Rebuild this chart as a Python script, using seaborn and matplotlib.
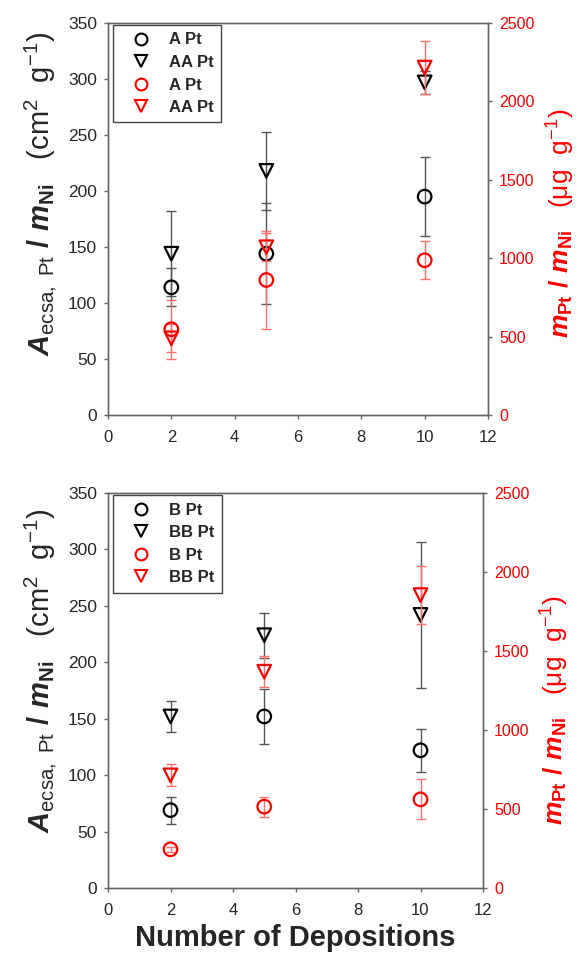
import matplotlib
matplotlib.use("Agg")
import matplotlib.pyplot as plt
import seaborn as sns
import pandas as pd
import numpy as np

# ---------------- data ----------------
depositions = [2, 5, 10]

# top panel
top_circle_area = [114, 144, 195]
top_circle_area_err = [17, 45, 35]
top_tri_area = [144, 218, 297]
top_tri_area_err = [38, 35, 10]
top_circle_mass = [547, 861, 987]
top_circle_mass_err = [187, 311, 122]
top_tri_mass = [489, 1070, 2216]
top_tri_mass_err = [90, 90, 168]
top_labels = ["A Pt", "AA Pt"]

# bottom panel
bot_circle_area = [69, 152, 122]
bot_circle_area_err = [12, 24, 19]
bot_tri_area = [152, 224, 242]
bot_tri_area_err = [14, 20, 65]
bot_circle_mass = [245, 515, 561]
bot_circle_mass_err = [15, 63, 127]
bot_tri_mass = [713, 1369, 1854]
bot_tri_mass_err = [70, 100, 183]
bot_labels = ["B Pt", "BB Pt"]

x_ticks = [0, 2, 4, 6, 8, 10, 12]
left_ticks = [0, 50, 100, 150, 200, 250, 300, 350]
right_ticks = [0, 500, 1000, 1500, 2000, 2500]

# ---------------- style ----------------
sns.set_theme(style="white")
plt.rcParams["font.family"] = ["Liberation Sans", "DejaVu Sans"]
plt.rcParams["mathtext.fontset"] = "custom"
plt.rcParams["mathtext.rm"] = "Liberation Sans"
plt.rcParams["mathtext.it"] = "Liberation Sans:italic:bold"
plt.rcParams["mathtext.bf"] = "Liberation Sans:bold"

W, H = 583, 955
fig = plt.figure(figsize=(W / 100, H / 100), dpi=100)

RED = "#ff0000"
ERR_BLACK = "#555555"
ERR_RED = "#ff7070"
SPINE = "#666666"


def draw_panel(rect, ca, cae, ta, tae, cm, cme, tm, tme, labels,
               ly, ry, xlabel=False):
    ax = fig.add_axes(rect)
    ax2 = ax.twinx()
    df_a = pd.DataFrame({"x": depositions * 2,
                         "y": ca + ta,
                         "err": cae + tae,
                         "s": [labels[0]] * 3 + [labels[1]] * 3})
    df_m = pd.DataFrame({"x": depositions * 2,
                         "y": cm + tm,
                         "err": cme + tme,
                         "s": [labels[0]] * 3 + [labels[1]] * 3})
    handles = []
    for a, df, col, ecol in [(ax, df_a, "black", ERR_BLACK), (ax2, df_m, RED, ERR_RED)]:
        for lab, mk in zip(labels, ["o", "v"]):
            sub = df[df["s"] == lab]
            a.errorbar(sub["x"], sub["y"], yerr=sub["err"], fmt="none",
                       ecolor=ecol, elinewidth=1.0, capsize=3.6, capthick=1.0, zorder=2)
            sns.scatterplot(data=sub, x="x", y="y", ax=a, marker=mk, s=95,
                            facecolor="none", edgecolor=col, linewidth=1.6,
                            legend=False, zorder=3)
            handles.append(plt.Line2D([], [], ls="none", marker=mk, markersize=8.5,
                                      markerfacecolor="none", markeredgecolor=col,
                                      markeredgewidth=1.5, label=lab))
    ax.set_xlim(0, 12)
    ax.set_ylim(0, 350)
    ax2.set_ylim(0, 2500)
    ax.set_xticks(x_ticks)
    ax.set_yticks(left_ticks)
    ax2.set_yticks(right_ticks)
    ax.tick_params(axis="x", direction="out", length=3, width=1, color=SPINE,
                   labelsize=12, pad=8, bottom=True)
    ax.tick_params(axis="y", direction="out", length=3, width=1, color=SPINE,
                   labelsize=12.5, pad=5, left=True)
    ax2.tick_params(axis="y", direction="out", length=3, width=1, color=SPINE,
                    labelsize=11.5, labelcolor=RED, pad=5, right=True)
    for a in (ax, ax2):
        for sp in a.spines.values():
            sp.set_color(SPINE)
            sp.set_linewidth(1.0)
    if xlabel:
        ax.set_xlabel("Number of Depositions", fontsize=21, fontweight="bold", labelpad=4)
    else:
        ax.set_xlabel("")
    ax.set_ylabel(r"$\mathit{A}_{\mathrm{ecsa,\ Pt}}\ \mathbf{/}\ \mathit{m}_{\mathbf{Ni}}$   (cm$^{2}$  g$^{-1}$)",
                  fontsize=21)
    ax.yaxis.set_label_coords(-0.13, ly)
    ax2.set_ylabel(r"$\mathit{m}_{\mathbf{Pt}}\ \mathbf{/}\ \mathit{m}_{\mathbf{Ni}}$   ($\mathrm{\mu}$g  g$^{-1}$)",
                   fontsize=19, color=RED, rotation=90)
    ax2.yaxis.set_label_coords(1.15, ry)
    leg = ax2.legend(handles=handles, loc="upper left",
                     bbox_to_anchor=(5 / rect[2] / W, 1 - 2 / (rect[3] * H)),
                     frameon=True, fancybox=False,
                     edgecolor="#444444", framealpha=1, borderaxespad=0.0,
                     handlelength=2.5, handletextpad=0.4, labelspacing=0.45,
                     borderpad=0.45, prop={"weight": "bold", "size": 12})
    leg.get_frame().set_linewidth(1.0)
    leg.set_zorder(10)
    return ax, ax2


draw_panel([108 / W, 1 - 415 / H, 380 / W, 392 / H],
           top_circle_area, top_circle_area_err, top_tri_area, top_tri_area_err,
           top_circle_mass, top_circle_mass_err, top_tri_mass, top_tri_mass_err,
           top_labels, ly=0.565, ry=0.49)
draw_panel([108 / W, 1 - 888 / H, 375 / W, 395 / H],
           bot_circle_area, bot_circle_area_err, bot_tri_area, bot_tri_area_err,
           bot_circle_mass, bot_circle_mass_err, bot_tri_mass, bot_tri_mass_err,
           bot_labels, ly=0.55, ry=0.45, xlabel=True)

fig.savefig("out.png", dpi=100)
